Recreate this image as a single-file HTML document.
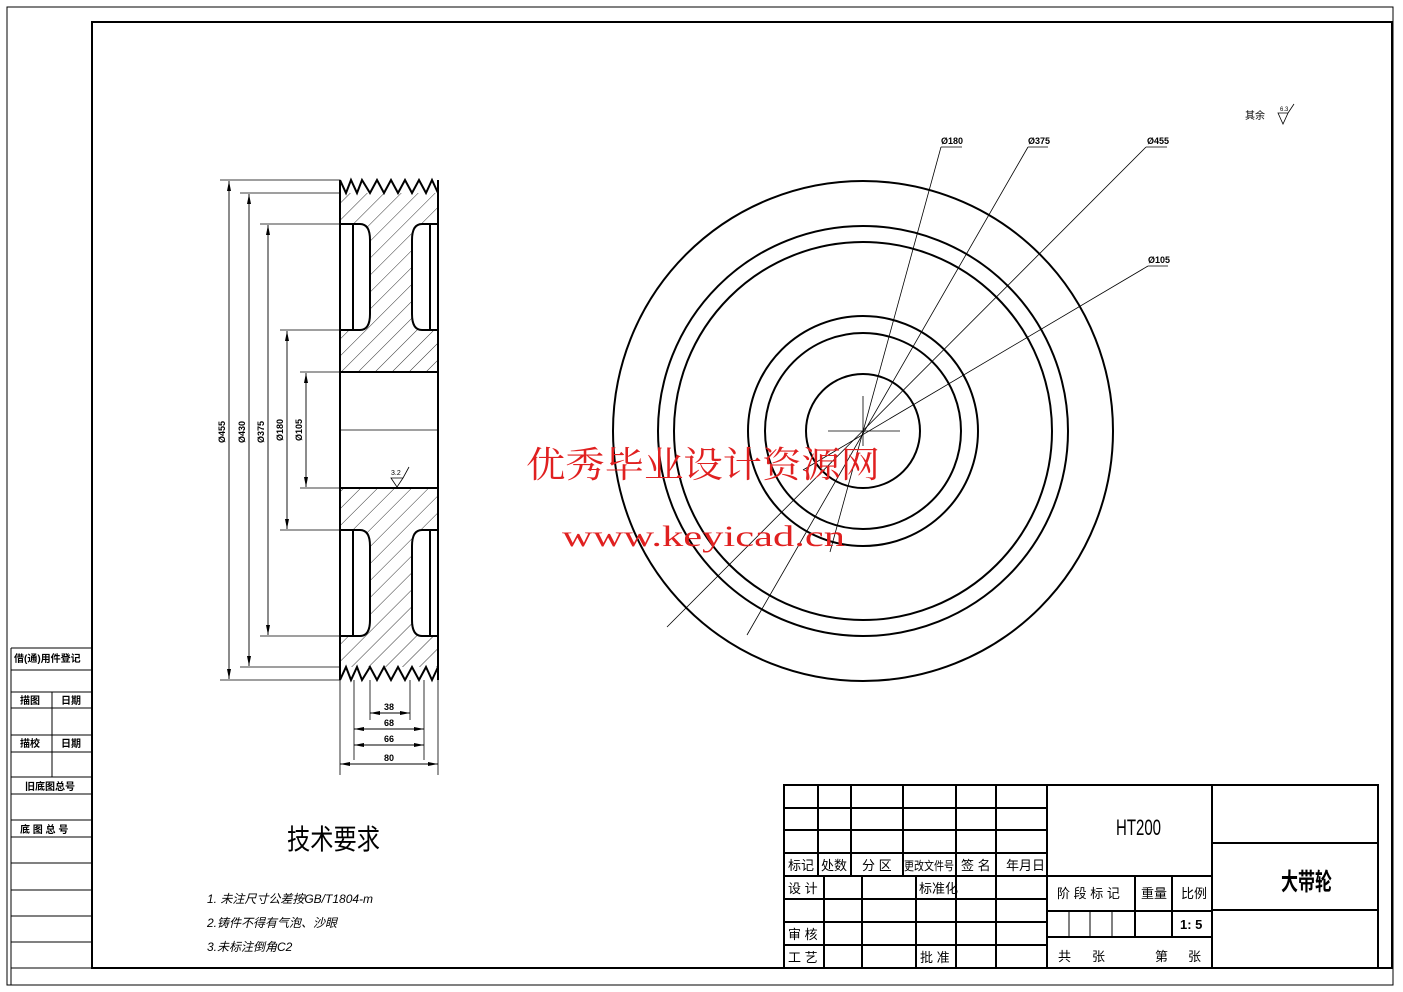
<!DOCTYPE html>
<html><head><meta charset="utf-8"><style>
html,body{margin:0;padding:0;background:#fff}
svg{display:block}
text{font-family:"Liberation Sans","Noto Sans CJK SC",sans-serif;fill:#000}
</style></head><body>
<svg width="1403" height="992" viewBox="0 0 1403 992" xmlns="http://www.w3.org/2000/svg">
<defs>
<pattern id="h" width="12" height="12" patternUnits="userSpaceOnUse" patternTransform="rotate(45)">
<line x1="0" y1="0" x2="0" y2="12" stroke="#000" stroke-width="0.8"/>
</pattern>
<marker id="a" viewBox="0 0 10 4" refX="10" refY="2" markerWidth="10" markerHeight="4" orient="auto-start-reverse" markerUnits="userSpaceOnUse"><path d="M0,0L10,2L0,4z" fill="#000"/></marker>
</defs>
<rect x="7" y="7" width="1386" height="978" fill="none" stroke="#000" stroke-width="1"/>
<rect x="92" y="22" width="1300" height="946" fill="none" stroke="#000" stroke-width="2"/>
<g stroke="#000" stroke-width="1" fill="none">
<line x1="11" y1="648" x2="11" y2="985"/>
<path d="M11 648H91M11 670H91M11 692H91M11 708H91M11 735H91M11 752H91M11 777H91M11 794H91M11 820H91M11 837H91M11 863H91M11 890H91M11 916H91M11 942H91M11 968H91"/>
<line x1="52" y1="692" x2="52" y2="777"/>
</g>
<g font-size="10" font-weight="bold">
<text x="14" y="662">借(通)用件登记</text>
<text x="20" y="704">描图</text><text x="61" y="704">日期</text>
<text x="20" y="747">描校</text><text x="61" y="747">日期</text>
<text x="25" y="790">旧底图总号</text>
<text x="20" y="833">底 图 总 号</text>
</g>
<g>
<rect x="340" y="193" width="98" height="474" fill="url(#h)"/>
<rect x="340" y="372" width="98" height="116" fill="#fff"/>
<path d="M340 224H360Q370 224 370 240V314Q370 330 360 330H340Z" fill="#fff"/>
<path d="M340 530H360Q370 530 370 546V620Q370 636 360 636H340Z" fill="#fff"/>
<path d="M438 224H422Q412 224 412 240V314Q412 330 422 330H438Z" fill="#fff"/>
<path d="M438 530H422Q412 530 412 546V620Q412 636 422 636H438Z" fill="#fff"/>
<g stroke="#000" stroke-width="2" fill="none">
<path d="M340 180V680M438 180V680"/>
<path d="M340 180L346 193L351 180L357 193L362 180L370 193L377 180L384 193L391 180L398 193L405 180L412 193L419 180L426 193L432 180L438 193"/>
<path d="M340 680L346 667L351 680L357 667L362 680L370 667L377 680L384 667L391 680L398 667L405 680L412 667L419 680L426 667L432 680L438 667"/>
<path d="M340 224H360Q370 224 370 240V314Q370 330 360 330H340"/>
<path d="M340 530H360Q370 530 370 546V620Q370 636 360 636H340"/>
<path d="M438 224H422Q412 224 412 240V314Q412 330 422 330H438"/>
<path d="M438 530H422Q412 530 412 546V620Q412 636 422 636H438"/>
<path d="M353 224V330M353 530V636M430 224V330M430 530V636"/>
<path d="M340 372H438M340 488H438"/>
</g>
<line x1="340" y1="430" x2="438" y2="430" stroke="#000" stroke-width="0.8"/>
<g stroke="#000" stroke-width="0.8" fill="none">
<path d="M220 180H340M220 680H340M240 193H340M240 667H340M260 224H340M260 636H340M280 330H340M280 530H340M300 372H340M300 488H340"/>
<path d="M340 680V775M438 680V775M354 680V760M424 680V760M370 680V720M410 680V720"/>
</g>
<g stroke="#000" stroke-width="0.9" marker-start="url(#a)" marker-end="url(#a)">
<line x1="229" y1="181" x2="229" y2="679"/>
<line x1="249" y1="194" x2="249" y2="666"/>
<line x1="268" y1="225" x2="268" y2="635"/>
<line x1="287" y1="331" x2="287" y2="529"/>
<line x1="306" y1="373" x2="306" y2="487"/>
<line x1="370" y1="713" x2="410" y2="713"/>
<line x1="354" y1="729" x2="424" y2="729"/>
<line x1="354" y1="745" x2="424" y2="745"/>
<line x1="340" y1="764" x2="438" y2="764"/>
</g>
<g font-size="9" font-weight="bold">
<text transform="translate(225,443) rotate(-90)">Ø455</text>
<text transform="translate(245,443) rotate(-90)">Ø430</text>
<text transform="translate(264,443) rotate(-90)">Ø375</text>
<text transform="translate(283,441) rotate(-90)">Ø180</text>
<text transform="translate(302,441) rotate(-90)">Ø105</text>
<text x="384" y="710">38</text><text x="384" y="726">68</text><text x="384" y="742">66</text><text x="384" y="761">80</text>
</g>
<path d="M391 478L397 487L403 478Z M403 478L409 467" stroke="#000" stroke-width="0.8" fill="none"/>
<text x="391" y="475" font-size="7">3.2</text>
</g>
<g stroke="#000" stroke-width="2" fill="none">
<circle cx="863" cy="431" r="250"/>
<circle cx="863" cy="431" r="205"/>
<circle cx="863" cy="431" r="189"/>
<circle cx="863" cy="431" r="115"/>
<circle cx="863" cy="431" r="98"/>
<circle cx="863" cy="431" r="57"/>
</g>
<g stroke="#000" stroke-width="0.8" fill="none">
<path d="M828 431H900M863 396V446"/>
<line x1="941" y1="147" x2="830" y2="552"/>
<line x1="1028" y1="147" x2="747" y2="635"/>
<line x1="1146" y1="147" x2="667" y2="627"/>
<line x1="1148" y1="266" x2="803" y2="470"/>
<path d="M941 147H962M1028 147H1048M1146 147H1167M1148 266H1168"/>
</g>
<g font-size="9" font-weight="bold">
<text x="941" y="144">Ø180</text><text x="1028" y="144">Ø375</text><text x="1147" y="144">Ø455</text><text x="1148" y="263">Ø105</text>
</g>
<text x="1245" y="119" font-size="10">其余</text>
<path d="M1278 113L1283 124L1288 113ZM1288 113L1294 104" stroke="#000" stroke-width="0.8" fill="none"/>
<text x="1280" y="111" font-size="6">6.3</text>
<text x="526" y="477" font-size="36" textLength="354" lengthAdjust="spacingAndGlyphs" style="fill:#e02020;font-family:'Noto Serif CJK SC',serif">优秀毕业设计资源网</text>
<text x="562" y="546" font-size="30" textLength="283" lengthAdjust="spacingAndGlyphs" style="fill:#e02020;font-family:'Liberation Serif',serif">www.keyicad.cn</text>
<text x="287" y="849" font-size="28" textLength="93" lengthAdjust="spacingAndGlyphs">技术要求</text>
<g font-size="12" font-style="italic">
<text x="207" y="903">1. 未注尺寸公差按GB/T1804-m</text>
<text x="207" y="927">2.铸件不得有气泡、沙眼</text>
<text x="207" y="951">3.未标注倒角C2</text>
</g>
<g stroke="#000" stroke-width="2" fill="none">
<rect x="784" y="785" width="594" height="183"/>
<path d="M784 808H1047M784 830H1047M784 853H1047M784 876H1212M784 899H1047M784 922H1047M784 945H1047"/>
<path d="M818 785V876M851 785V876M903 785V876M956 785V968M996 785V968M1047 785V968M1212 785V968"/>
<path d="M824 876V968M862 876V968M916 876V968"/>
<path d="M1047 911H1212M1047 937H1212M1135 876V937M1172 876V937"/>
<path d="M1212 843H1378M1212 910H1378"/>
</g>
<path d="M1069 911V937M1090 911V937M1112 911V937" stroke="#000" stroke-width="1"/>
<g font-size="13">
<text x="788" y="870">标记</text><text x="821" y="870">处数</text><text x="862" y="870">分 区</text>
<text x="904" y="870" font-size="12" textLength="50" lengthAdjust="spacingAndGlyphs">更改文件号</text><text x="961" y="870">签 名</text><text x="1006" y="870">年月日</text>
<text x="788" y="893">设 计</text><text x="919" y="893">标准化</text>
<text x="788" y="939">审 核</text><text x="788" y="962">工 艺</text><text x="920" y="962">批 准</text>
<text x="1057" y="898">阶 段 标 记</text><text x="1141" y="898">重量</text><text x="1181" y="898">比例</text>
<text x="1180" y="929" font-weight="bold">1: 5</text>
<text x="1058" y="961">共</text><text x="1092" y="961">张</text><text x="1155" y="961">第</text><text x="1188" y="961">张</text>
</g>
<text x="1116" y="835" font-size="22" textLength="45" lengthAdjust="spacingAndGlyphs">HT200</text>
<text x="1281" y="890" font-size="24" font-weight="bold" textLength="51" lengthAdjust="spacingAndGlyphs">大带轮</text>
</svg>
</body></html>
